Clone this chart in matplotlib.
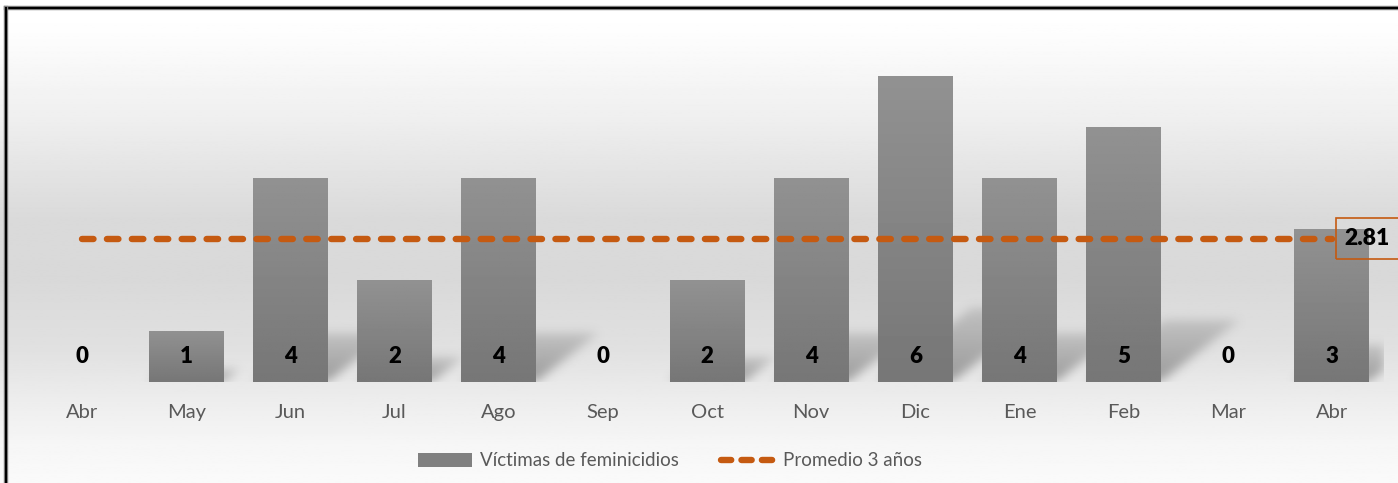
import numpy as np
import matplotlib.pyplot as plt
from matplotlib.lines import Line2D
from matplotlib.patches import Patch, Rectangle
from matplotlib.path import Path

months = ["Abr", "May", "Jun", "Jul", "Ago", "Sep", "Oct", "Nov", "Dic", "Ene", "Feb", "Mar", "Abr"]
victims = [0, 1, 4, 2, 4, 0, 2, 4, 6, 4, 5, 0, 3]
average = 2.81

orange = "#C55A11"
txt_gray = "#595959"
plt.rcParams['font.family'] = ['Lato', 'DejaVu Sans']

fig = plt.figure(figsize=(13.98, 4.83), dpi=100)

# background gradient over the whole figure
bg = fig.add_axes([0, 0, 1, 1], zorder=-10)
yy = np.linspace(0, 1, 300)
shade = np.interp(yy, [0, 0.06, 0.25, 0.45, 0.58, 0.72, 0.82, 0.92, 1.0],
                  [1.0, 0.995, 0.935, 0.855, 0.85, 0.88, 0.925, 0.965, 0.98])
bg.imshow(np.repeat(shade[:, None], 2, axis=1), cmap='gray', vmin=0, vmax=1,
          aspect='auto', extent=[0, 1, 0, 1])
bg.set_xlim(0, 1)
bg.set_ylim(0, 1)
bg.axis('off')

# outer frame (only top and left edges fall inside the picture)
for xs, ys in [([6/1398, 1.01], [1 - 8/483, 1 - 8/483]), ([6/1398, 6/1398], [1 - 8/483, -0.01])]:
    fig.add_artist(Line2D(xs, ys, transform=fig.transFigure, color='#8a8a8a', lw=3.2))
    fig.add_artist(Line2D(xs, ys, transform=fig.transFigure, color='black', lw=1.6))

ax = fig.add_axes([30/1398, 101/483, 1354/1398, 357/483])
ax.set_facecolor('none')

x = np.arange(len(months))
w = 0.72
xlim, ylim = (-0.5, 12.5), (0, 7)

# soft perspective shadows, rasterised and blurred
nx, ny = 1354, 357
gx = np.linspace(*xlim, nx)
gy = np.linspace(*ylim, ny)
X, Y = np.meshgrid(gx, gy)
pts = np.column_stack([X.ravel(), Y.ravel()])
sh = np.zeros((ny, nx))
for xi, v in zip(x, victims):
    if v == 0:
        continue
    dx, dy = 0.15 * v, 0.24 * v
    verts = [(xi - w/2, 0), (xi + w/2, 0), (xi + w/2 + dx, dy), (xi - w/2 + dx, dy)]
    m = Path(verts).contains_points(pts).reshape(ny, nx)
    fade = 1 - 0.6 * np.clip(Y / dy, 0, 1)
    sh = np.maximum(sh, m * fade)
k = np.exp(-0.5 * (np.arange(-15, 16) / 5.0) ** 2)
k /= k.sum()
sh = np.apply_along_axis(lambda r: np.convolve(r, k, mode='same'), 1, sh)
sh = np.apply_along_axis(lambda c: np.convolve(c, k, mode='same'), 0, sh)
rgba = np.zeros((ny, nx, 4))
rgba[..., :3] = 0.5
rgba[..., 3] = sh * 0.75
ax.imshow(rgba, origin='lower', aspect='auto', extent=[*xlim, *ylim], zorder=1)

# bars with vertical gradient
grad = np.linspace(0.57, 0.465, 100)[:, None]
bars = ax.bar(x, victims, width=w, color='#808080', zorder=2)
for b in bars:
    b.set_visible(False)
    if b.get_height() <= 0:
        continue
    x0, y0 = b.get_x(), b.get_y()
    ax.imshow(grad, cmap='gray', vmin=0, vmax=1, aspect='auto', zorder=3,
              extent=[x0, x0 + b.get_width(), y0, y0 + b.get_height()])
ax.set_xlim(*xlim)
ax.set_ylim(*ylim)

for xi, v in zip(x, victims):
    ax.text(xi, 0.5, str(v), ha='center', va='center', fontsize=16,
            fontweight='heavy', color='black', zorder=5)

ax.plot(x, [average] * len(x), color=orange, lw=4.6, dashes=(1.8, 2.1),
        dash_capstyle='round', zorder=4)
ax.add_patch(Rectangle((12.04, average - 0.4), 0.8, 0.8, fc='none', ec=orange,
                       lw=1.2, zorder=6, clip_on=False))
ax.text(12.12, average, f"{average:.2f}", ha='left', va='center', fontsize=16.5,
        fontweight='heavy', color='black', zorder=6, clip_on=False)

ax.set_xticks(x)
ax.set_xticklabels(months, fontsize=14.5, color=txt_gray)
ax.tick_params(axis='x', length=0, pad=16)
ax.set_yticks([])
for s in ax.spines.values():
    s.set_visible(False)

handles = [Patch(fc='#808080', ec='none'),
           Line2D([0], [0], color=orange, lw=4.6, dashes=(1.6, 1.6), dash_capstyle='round')]
fig.legend(handles, ["Víctimas de feminicidios", "Promedio 3 años"], ncol=2,
           loc='center', bbox_to_anchor=(670/1398, 1 - 461/483), frameon=False,
           fontsize=13.5, labelcolor=txt_gray, handlelength=2.9, handleheight=0.75,
           columnspacing=2.2, handletextpad=0.45)

fig.savefig("out.png", dpi=100)
